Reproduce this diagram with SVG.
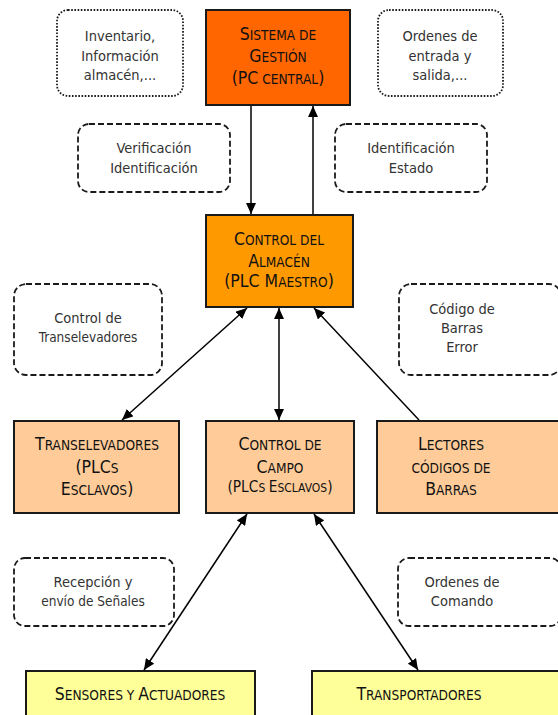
<svg xmlns="http://www.w3.org/2000/svg" width="558" height="715" viewBox="0 0 558 715">
<style>
.node{stroke:#1a1a1a;stroke-width:2}
.lbl{fill:#fff;stroke:#1a1a1a;stroke-width:1.8;stroke-dasharray:6 3}
.dot{fill:#fff;stroke:#1a1a1a;stroke-width:1.8;stroke-dasharray:1.6 1.6}
text{font-family:"DejaVu Sans Condensed","DejaVu Sans",sans-serif;text-anchor:middle}
.nt{font-size:13.6px;fill:#111}
.nt .B{font-size:17.5px}
.nts{font-size:12px;fill:#111}
.nts .B{font-size:15.3px}
.lt{font-size:14.5px;fill:#333}
.lts{font-size:13.5px;fill:#333}
.c{stroke:#000;stroke-width:1.5;fill:none}
</style>
<defs>
<marker id="ah" markerUnits="userSpaceOnUse" markerWidth="12" markerHeight="10" refX="11" refY="5" orient="auto-start-reverse">
<path d="M0,0 L11,5 L0,10 z" fill="#000"/>
</marker>
</defs>
<rect width="558" height="715" fill="#fff"/>

<g id="lbl-inventario">
<rect class="dot" x="57" y="10" width="126" height="86" rx="11"/>
<text class="lt" x="120" y="41">Inventario,</text>
<text class="lt" x="120" y="61">Información</text>
<text class="lt" x="120" y="80">almacén,...</text>
</g>
<g id="lbl-ordenes">
<rect class="dot" x="378" y="10" width="125" height="86" rx="11"/>
<text class="lt" x="440" y="41">Ordenes de</text>
<text class="lt" x="440" y="61">entrada y</text>
<text class="lt" x="440" y="80">salida,...</text>
</g>
<g id="sistema">
<rect class="node" x="206" y="10" width="144" height="95" fill="#FF6600"/>
<text class="nt" x="278" y="40"><tspan class="B">S</tspan>ISTEMA DE</text>
<text class="nt" x="278" y="62"><tspan class="B">G</tspan>ESTIÓN</text>
<text class="nt" x="278" y="84"><tspan class="B">(PC</tspan> CENTRAL<tspan class="B">)</tspan></text>
</g>
<g id="lbl-verif">
<rect class="lbl" x="78" y="124" width="152" height="68" rx="11"/>
<text class="lt" x="154" y="153">Verificación</text>
<text class="lt" x="154" y="173">Identificación</text>
</g>
<g id="lbl-ident">
<rect class="lbl" x="335" y="124" width="152" height="68" rx="11"/>
<text class="lt" x="411" y="153">Identificación</text>
<text class="lt" x="411" y="173">Estado</text>
</g>
<g id="control-almacen">
<rect class="node" x="206" y="215" width="147" height="92" fill="#FF9900"/>
<text class="nt" x="279" y="245"><tspan class="B">C</tspan>ONTROL DEL</text>
<text class="nt" x="279" y="267"><tspan class="B">A</tspan>LMACÉN</text>
<text class="nt" x="279" y="287"><tspan class="B">(PLC M</tspan>AESTRO<tspan class="B">)</tspan></text>
</g>
<g id="lbl-transelev">
<rect class="lbl" x="14" y="284" width="148" height="91" rx="12"/>
<text class="lt" x="88" y="323">Control de</text>
<text class="lts" x="88" y="342">Transelevadores</text>
</g>
<g id="lbl-codigo">
<rect class="lbl" x="399" y="284" width="162" height="91" rx="12"/>
<text class="lt" x="462" y="314">Código de</text>
<text class="lt" x="462" y="333">Barras</text>
<text class="lt" x="462" y="352">Error</text>
</g>
<g id="transelevadores">
<rect class="node" x="14" y="421" width="165" height="92" fill="#FFCC99"/>
<text class="nt" x="97" y="450"><tspan class="B">T</tspan>RANSELEVADORES</text>
<text class="nt" x="97" y="473"><tspan class="B">(PLC</tspan>S</text>
<text class="nt" x="97" y="495"><tspan class="B">E</tspan>SCLAVOS<tspan class="B">)</tspan></text>
</g>
<g id="control-campo">
<rect class="node" x="206" y="421" width="148" height="92" fill="#FFCC99"/>
<text class="nt" x="280" y="450"><tspan class="B">C</tspan>ONTROL DE</text>
<text class="nt" x="280" y="473"><tspan class="B">C</tspan>AMPO</text>
<text class="nts" x="280" y="492"><tspan class="B">(PLC</tspan>S <tspan class="B">E</tspan>SCLAVOS<tspan class="B">)</tspan></text>
</g>
<g id="lectores">
<rect class="node" x="377" y="421" width="185" height="92" fill="#FFCC99"/>
<text class="nt" x="451" y="450"><tspan class="B">L</tspan>ECTORES</text>
<text class="nt" x="451" y="473">CÓDIGOS DE</text>
<text class="nt" x="451" y="495"><tspan class="B">B</tspan>ARRAS</text>
</g>
<g id="lbl-recepcion">
<rect class="lbl" x="14" y="558" width="160" height="68" rx="11"/>
<text class="lt" x="93" y="587">Recepción y</text>
<text class="lts" x="93" y="606">envío de Señales</text>
</g>
<g id="lbl-comando">
<rect class="lbl" x="398" y="558" width="163" height="68" rx="11"/>
<text class="lt" x="462" y="587">Ordenes de</text>
<text class="lt" x="462" y="606">Comando</text>
</g>
<g id="sensores">
<rect class="node" x="26" y="671" width="229" height="50" fill="#FFFF99"/>
<text class="nt" x="140" y="700"><tspan class="B">S</tspan>ENSORES Y <tspan class="B">A</tspan>CTUADORES</text>
</g>
<g id="transportadores">
<rect class="node" x="312" y="671" width="250" height="50" fill="#FFFF99"/>
<text class="nt" x="419" y="700"><tspan class="B">T</tspan>RANSPORTADORES</text>
</g>

<g id="connectors">
<line class="c" x1="251" y1="106" x2="251" y2="214" marker-end="url(#ah)"/>
<line class="c" x1="313" y1="214" x2="313" y2="106" marker-end="url(#ah)"/>
<line class="c" x1="122" y1="420" x2="247" y2="308" marker-start="url(#ah)" marker-end="url(#ah)"/>
<line class="c" x1="279" y1="308" x2="279" y2="420" marker-start="url(#ah)" marker-end="url(#ah)"/>
<line class="c" x1="419" y1="420" x2="314" y2="308" marker-end="url(#ah)"/>
<line class="c" x1="247" y1="514" x2="144" y2="670" marker-start="url(#ah)" marker-end="url(#ah)"/>
<line class="c" x1="314" y1="514" x2="418" y2="670" marker-start="url(#ah)" marker-end="url(#ah)"/>
</g>
</svg>
